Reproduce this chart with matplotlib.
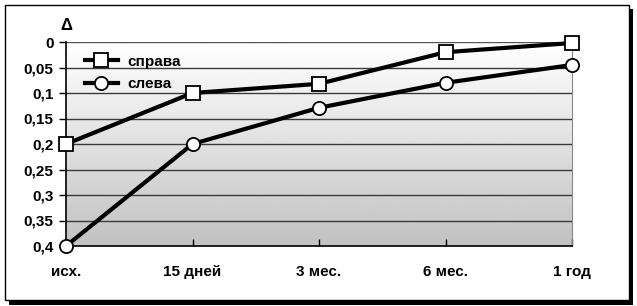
import matplotlib.pyplot as plt
import numpy as np
from matplotlib.patches import Rectangle

plt.rcParams['font.family'] = ['Liberation Sans', 'DejaVu Sans']

periods = ['исх.', '15 дней', '3 мес.', '6 мес.', '1 год']
right_vals = [0.2, 0.1, 0.082, 0.02, 0.002]
left_vals = [0.4, 0.2, 0.129, 0.08, 0.045]
y_ticks = [0, 0.05, 0.1, 0.15, 0.2, 0.25, 0.3, 0.35, 0.4]
y_labels = ['0', '0,05', '0,1', '0,15', '0,2', '0,25', '0,3', '0,35', '0,4']

fig = plt.figure(figsize=(6.37, 3.06), dpi=100)
W, H = 637, 306

# frame with shadow
fig.patches.append(Rectangle((9 / W, 1 / H), 624 / W, 296 / H, transform=fig.transFigure,
                             facecolor='black', edgecolor='none', zorder=-2))
fig.patches.append(Rectangle((5 / W, 6 / H), 624 / W, 295 / H, transform=fig.transFigure,
                             facecolor='white', edgecolor='black', lw=1, zorder=-1))

ax = fig.add_axes([66 / W, 60 / H, 506 / W, 204 / H])
x = np.arange(len(periods))

# gradient background, white on top
grad = np.linspace(1.0, 0.76, 256).reshape(-1, 1)
ax.imshow(grad, cmap='gray', vmin=0, vmax=1, aspect='auto', origin='upper',
          extent=[0, 1, 0, 1], transform=ax.transAxes, zorder=0)
ax.set_xlim(0, len(periods) - 1)
ax.set_ylim(0.4, 0)

for t in y_ticks[1:-1]:
    ax.axhline(t, color='#3a3a3a', lw=1, zorder=1)
ax.axhline(0, color='#555555', lw=1, zorder=1)

ax.plot(x, right_vals, color='black', lw=3, marker='s', ms=9.5, mfc='white',
        mec='black', mew=1.3, label='справа', zorder=3, clip_on=False)
ax.plot(x, left_vals, color='black', lw=3, marker='o', ms=9.5, mfc='white',
        mec='black', mew=1.3, label='слева', zorder=3, clip_on=False)

ax.set_yticks(y_ticks)
ax.set_yticklabels(y_labels, fontsize=11, fontweight='bold')
ax.set_xticks(x)
ax.set_xticklabels(periods, fontsize=11, fontweight='bold')
ax.tick_params(axis='y', direction='out', length=5, width=1, pad=4)
ax.tick_params(axis='x', direction='in', length=5, width=1, pad=14)

ax.spines['top'].set_visible(False)
ax.spines['right'].set_color('#888888')
ax.spines['left'].set_linewidth(1.2)
ax.spines['bottom'].set_linewidth(1.2)

ax.text(0, -0.017, 'Δ', fontsize=12, fontweight='bold', ha='center', va='bottom')

leg = ax.legend(loc='upper left', bbox_to_anchor=(0.01, 1.005), frameon=False,
                prop={'size': 11, 'weight': 'bold'}, handlelength=2.15,
                labelspacing=0.55, handletextpad=0.65)

fig.savefig('out.png', dpi=100)
